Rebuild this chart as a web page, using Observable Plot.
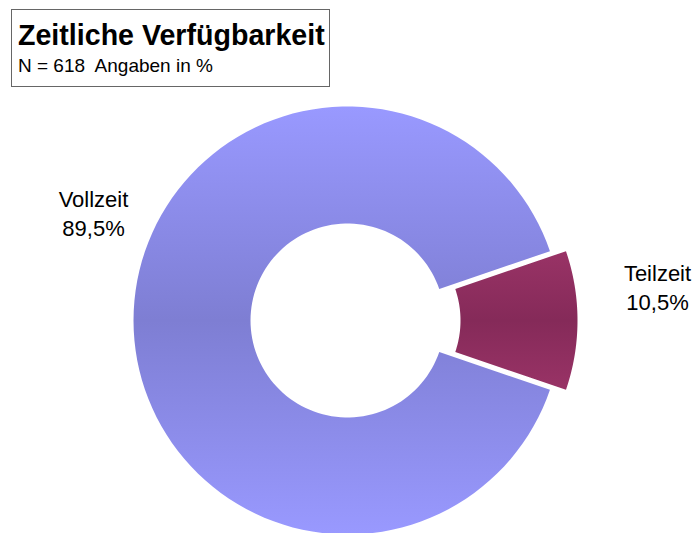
<!DOCTYPE html>
<html>
<head>
<meta charset="utf-8">
<script src="https://cdn.jsdelivr.net/npm/d3@7"></script>
<script src="https://cdn.jsdelivr.net/npm/@observablehq/plot@0.6"></script>
<style>
  html, body { margin: 0; padding: 0; background: #fff; }
  #wrap { position: relative; width: 696px; height: 533px; overflow: hidden; font-family: "Liberation Sans", Arial, sans-serif; }
  #box { position: absolute; left: 11px; top: 9px; width: 317px; height: 76px; border: 1px solid #666; box-sizing: content-box; }
  #title { position: absolute; left: 6px; top: 11px; font-size: 28.6px; font-weight: bold; line-height: 1; white-space: nowrap; color: #000; }
  #sub { position: absolute; left: 6px; top: 46px; font-size: 19px; line-height: 1; white-space: nowrap; color: #000; }
  #chart { position: absolute; left: 0; top: 0; }
</style>
</head>
<body>
<div id="wrap">
  <div id="chart"></div>
  <div id="box">
    <div id="title">Zeitliche Verfügbarkeit</div>
    <div id="sub">N = 618&nbsp; Angaben in %</div>
  </div>
</div>
<script>
// ---- data ----
const categories = ["Vollzeit", "Teilzeit"];
const values = [89.5, 10.5];
const valueLabels = ["89,5%", "10,5%"];

// ---- layout (unit circle = outer radius) ----
const W = 696, H = 533;
const cx = 347, cy = 320, R = 214;           // pixel centre & outer radius
const innerR = 97 / R;                        // inner radius, unit
const explode = [0, 16 / R];                  // explode offset per slice
const labelPos = [                            // label anchors (unit coords)
  {x: (93 - cx) / R, y: (cy - 186) / R},
  {x: (657 - cx) / R, y: (cy - 260) / R}
];
const gradients = [
  {id: "gV", edge: "#9999ff", mid: "#7e7ed3"},
  {id: "gT", edge: "#993366", mid: "#852a59"}
];

const total = d3.sum(values);
const start = Math.PI / 2 + Math.PI * values[1] / total;
const pie = d3.pie().sort(null).startAngle(start).endAngle(start + 2 * Math.PI);
const arcs = pie(values);

// build polygon points for each slice (angle clockwise from north, y up)
const pts = [];
arcs.forEach((a, i) => {
  const mid = (a.startAngle + a.endAngle) / 2;
  const ox = Math.sin(mid) * explode[i], oy = Math.cos(mid) * explode[i];
  const n = 120;
  for (let k = 0; k <= n; k++) {
    const t = a.startAngle + (a.endAngle - a.startAngle) * k / n;
    pts.push({cat: categories[i], x: ox + Math.sin(t), y: oy + Math.cos(t)});
  }
  for (let k = n; k >= 0; k--) {
    const t = a.startAngle + (a.endAngle - a.startAngle) * k / n;
    pts.push({cat: categories[i], x: ox + innerR * Math.sin(t), y: oy + innerR * Math.cos(t)});
  }
});

const labels = categories.map((c, i) => ({cat: c, x: labelPos[i].x, y: labelPos[i].y, text: c + "\n" + valueLabels[i]}));

const plot = Plot.plot({
  width: W,
  height: H,
  margin: 0,
  x: {domain: [-cx / R, (W - cx) / R], axis: null},
  y: {domain: [(cy - H) / R, cy / R], axis: null},
  marks: [
    Plot.line(pts.filter(d => d.cat === categories[0]), {x: "x", y: "y", curve: "linear-closed", fill: "url(#gV)", stroke: "none"}),
    Plot.line(pts.filter(d => d.cat === categories[1]), {x: "x", y: "y", curve: "linear-closed", fill: "url(#gT)", stroke: "none"}),
    Plot.text(labels, {x: "x", y: "y", text: "text", lineAnchor: "top", lineHeight: 1.32, fontSize: 22, fill: "#000", textAnchor: "middle", fontFamily: "Liberation Sans, Arial, sans-serif"})
  ]
});

// gradient definitions
const ns = "http://www.w3.org/2000/svg";
const defs = document.createElementNS(ns, "defs");
gradients.forEach(g => {
  const lg = document.createElementNS(ns, "linearGradient");
  lg.setAttribute("id", g.id);
  lg.setAttribute("x1", "0"); lg.setAttribute("y1", "0");
  lg.setAttribute("x2", "0"); lg.setAttribute("y2", "1");
  [[0, g.edge], [0.5, g.mid], [1, g.edge]].forEach(([o, c]) => {
    const s = document.createElementNS(ns, "stop");
    s.setAttribute("offset", o);
    s.setAttribute("stop-color", c);
    lg.appendChild(s);
  });
  defs.appendChild(lg);
});
plot.insertBefore(defs, plot.firstChild);
document.getElementById("chart").appendChild(plot);
</script>
</body>
</html>
